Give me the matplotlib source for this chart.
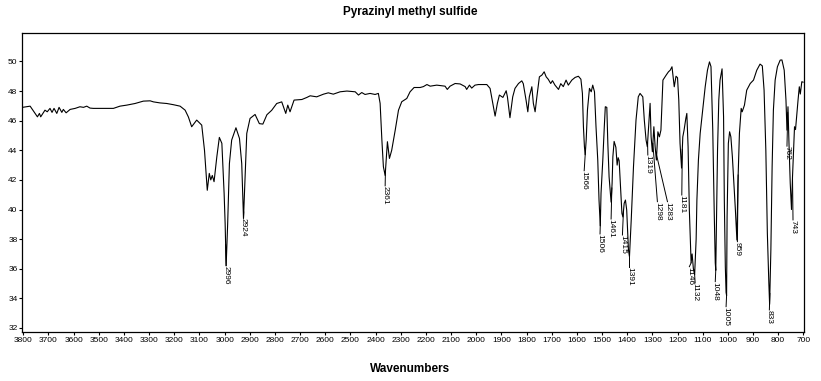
import numpy as np
import matplotlib.pyplot as plt
from matplotlib import rc
rc('font', **{'family': 'sans-serif', 'sans-serif': ['Liberation Sans', 'DejaVu Sans']})

# spectrum (wavenumber, % transmittance)
wavenumber = [
    3803, 3773, 3753, 3744, 3736, 3731, 3714, 3705, 3694, 3686, 3678, 3667, 3658, 3647,
    3641, 3630, 3614, 3594, 3575, 3561, 3548, 3535, 3522, 3482, 3442, 3416, 3389, 3356,
    3323, 3296, 3283, 3257, 3230, 3204, 3177, 3157, 3144, 3131, 3111, 3091, 3080, 3069,
    3061, 3055, 3049, 3042, 3031, 3021, 3011, 3002, 2998, 2994, 2990, 2988, 2981, 2972,
    2955, 2941, 2932, 2925, 2919, 2912, 2899, 2879, 2862, 2848, 2832, 2813, 2793, 2773,
    2757, 2749, 2740, 2724, 2693, 2673, 2660, 2634, 2607, 2588, 2568, 2541, 2514, 2481,
    2468, 2455, 2442, 2422, 2402, 2389, 2382, 2375, 2369, 2362, 2353, 2345, 2336, 2322,
    2309, 2296, 2276, 2263, 2247, 2223, 2210, 2196, 2183, 2157, 2124, 2115, 2104, 2084,
    2064, 2044, 2038, 2027, 2018, 2005, 1991, 1958, 1945, 1934, 1925, 1916, 1908, 1894,
    1881, 1876, 1866, 1855, 1846, 1832, 1819, 1813, 1802, 1795, 1789, 1779, 1773, 1766,
    1759, 1749, 1739, 1730, 1722, 1714, 1704, 1697, 1687, 1673, 1664, 1654, 1643, 1634,
    1620, 1607, 1594, 1584, 1578, 1574, 1570, 1567, 1563, 1558, 1550, 1543, 1537, 1530,
    1524, 1517, 1512, 1507, 1504, 1497, 1491, 1487, 1481, 1477, 1472, 1464, 1460, 1457,
    1452, 1445, 1440, 1436, 1432, 1428, 1421, 1417, 1412, 1407, 1402, 1395, 1391, 1384,
    1375, 1365, 1356, 1349, 1338, 1332, 1325, 1320, 1313, 1309, 1305, 1300, 1294, 1289,
    1284, 1278, 1272, 1266, 1258, 1245, 1236, 1229, 1222, 1213, 1206, 1200, 1195, 1190,
    1184, 1179, 1174, 1167, 1163, 1158, 1153, 1149, 1146, 1142, 1137, 1132, 1126, 1123,
    1117, 1110, 1100, 1090, 1081, 1073, 1067, 1060, 1054, 1050, 1048, 1046, 1041, 1036,
    1031, 1023, 1017, 1014, 1010, 1007, 1005, 1003, 998, 993, 988, 982, 976, 970,
    964, 960, 954, 947, 943, 934, 925, 911, 898, 885, 872, 863, 856, 849,
    843, 837, 834, 829, 824, 819, 812, 803, 792, 785, 776, 769, 765, 761,
    757, 752, 747, 743, 735, 731, 721, 716, 712, 706, 701,
]
transmittance = [
    46.90, 46.98, 46.49, 46.26, 46.49, 46.26, 46.71, 46.60, 46.83, 46.56, 46.83, 46.49, 46.90, 46.56,
    46.76, 46.53, 46.76, 46.83, 46.94, 46.90, 46.98, 46.85, 46.83, 46.83, 46.83, 46.98, 47.05, 47.16,
    47.32, 47.34, 47.27, 47.20, 47.16, 47.08, 46.98, 46.71, 46.25, 45.59, 46.04, 45.70, 44.00, 41.30,
    42.44, 42.00, 42.30, 41.88, 43.56, 44.87, 44.47, 41.09, 39.07, 36.20, 38.00, 39.00, 43.10, 44.69,
    45.52, 44.80, 43.10, 39.40, 42.00, 45.14, 46.15, 46.42, 45.80, 45.77, 46.40, 46.70, 47.16, 47.27,
    46.49, 47.05, 46.60, 47.39, 47.43, 47.57, 47.68, 47.61, 47.79, 47.88, 47.79, 47.95, 48.00, 47.95,
    47.73, 47.90, 47.77, 47.84, 47.77, 47.84, 47.17, 44.69, 42.89, 42.30, 44.58, 43.45, 44.00, 45.36,
    46.71, 47.28, 47.50, 47.95, 48.24, 48.24, 48.30, 48.44, 48.33, 48.40, 48.33, 48.11, 48.33, 48.51,
    48.48, 48.30, 48.11, 48.40, 48.20, 48.40, 48.44, 48.44, 48.18, 47.17, 46.31, 47.17, 47.73, 47.57,
    48.02, 47.60, 46.20, 47.61, 48.18, 48.51, 48.69, 48.50, 47.39, 46.60, 47.61, 48.29, 47.17, 46.60,
    47.61, 48.96, 49.08, 49.30, 48.96, 48.80, 48.51, 48.70, 48.40, 48.11, 48.50, 48.30, 48.74, 48.40,
    48.74, 48.92, 49.00, 48.80, 47.84, 45.60, 44.24, 43.70, 44.69, 46.71, 48.18, 47.95, 48.40, 47.95,
    45.60, 43.34, 40.64, 38.90, 41.10, 43.34, 45.60, 46.94, 46.90, 44.47, 42.21, 40.50, 41.77, 43.56,
    44.60, 44.20, 43.00, 43.50, 43.30, 42.00, 39.74, 39.50, 40.42, 40.64, 39.97, 37.27, 36.82, 39.30,
    42.90, 46.04, 47.61, 47.84, 47.61, 46.04, 44.69, 44.24, 46.04, 47.17, 44.91, 43.90, 45.59, 44.24,
    43.34, 45.25, 44.91, 45.36, 48.74, 49.08, 49.30, 49.41, 49.64, 48.29, 49.00, 48.90, 47.39, 44.47,
    42.80, 44.91, 45.36, 46.15, 46.49, 44.24, 39.97, 38.00, 36.40, 37.00, 36.00, 35.60, 38.00, 40.64,
    43.34, 45.14, 46.71, 48.29, 49.41, 49.97, 49.65, 45.40, 39.70, 36.40, 35.90, 38.17, 44.00, 47.39,
    48.74, 49.50, 46.26, 40.64, 36.14, 34.40, 34.20, 39.50, 44.47, 45.25, 44.91, 43.56, 41.77, 39.97,
    37.94, 41.77, 45.14, 46.83, 46.60, 47.05, 48.06, 48.51, 48.74, 49.41, 49.82, 49.70, 48.06, 44.00,
    38.40, 35.02, 33.60, 37.27, 42.90, 46.71, 48.74, 49.64, 50.09, 50.10, 49.41, 47.39, 45.36, 46.94,
    44.47, 41.77, 40.00, 42.21, 45.59, 45.40, 47.39, 48.29, 47.80, 48.63, 48.60,
]

# peak annotations: label, label position (wavenumber), top of label (transmittance)
peak_labels = ['2996', '2924', '2361', '1566', '1506', '1461', '1415', '1391', '1319', '1298',
               '1283', '1181', '1146', '1132', '1048', '1005', '959', '833', '762', '743']
label_x = [2994, 2925, 2362, 1571, 1508, 1464, 1419, 1391, 1318, 1280,
           1240, 1183, 1153, 1130, 1050, 1007, 962, 835, 765, 741]
label_top = [36.21, 39.43, 41.60, 42.62, 38.35, 39.36, 38.28, 36.14, 43.68, 40.53,
             40.53, 40.98, 36.14, 35.04, 35.13, 33.44, 37.83, 33.22, 44.28, 39.30]

fig = plt.figure(figsize=(8.21, 3.81), dpi=100)
fig.patch.set_facecolor('white')
ax = fig.add_axes([0.0272, 0.1294, 0.9525, 0.7832])

ax.plot(wavenumber, transmittance, color='black', lw=0.8)

wn = np.array(wavenumber)[::-1]
tr = np.array(transmittance)[::-1]
for lab, lx, ly in zip(peak_labels, label_x, label_top):
    pw = float(lab)
    pv = np.interp(pw, wn, tr)
    ax.plot([pw, lx], [pv, ly], color='black', lw=0.7)
    ax.text(lx, ly, lab, rotation=270, ha='center', va='top', fontsize=6)

ax.set_xlim(3804, 696)
ax.set_ylim(31.75, 51.9)
ax.set_xticks(np.arange(3800, 699, -100))
ax.set_yticks(np.arange(32, 51, 2))
ax.tick_params(direction='out', length=2.5, width=0.8, pad=1, labelsize=6)
for s in ax.spines.values():
    s.set_linewidth(0.9)

fig.text(0.5, 0.968, 'Pyrazinyl methyl sulfide', ha='center', va='center',
         fontsize=8.5, fontweight='bold')
fig.text(0.5, 0.032, 'Wavenumbers', ha='center', va='center',
         fontsize=8.5, fontweight='bold')

# save graphic
plt.savefig('out.png', dpi=100)
